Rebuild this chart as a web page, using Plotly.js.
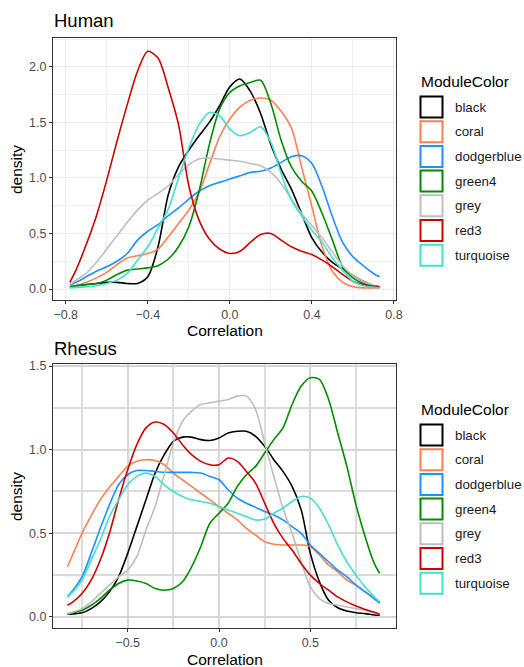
<!DOCTYPE html>
<html>
<head>
<meta charset="utf-8">
<script src="https://cdn.plot.ly/plotly-3.0.1.min.js"></script>
<style>html,body{margin:0;padding:0;background:#fff;}#chart{width:524px;height:667px;}</style>
</head>
<body>
<div id="chart"></div>
<script>
// ---- data ----
const modules = ["black","coral","dodgerblue","green4","grey","red3","turquoise"];
const moduleColors = ["#000000","#FF7F50","#1E90FF","#008B00","#BEBEBE","#CD0000","#40E0D0"];

const humanX = [-0.78,-0.75,-0.7,-0.65,-0.6,-0.55,-0.5,-0.45,-0.4,-0.35,-0.3,-0.25,-0.2,-0.15,-0.1,-0.05,0,0.05,0.1,0.15,0.2,0.25,0.3,0.35,0.4,0.45,0.5,0.55,0.6,0.65,0.7,0.73];
const humanBlack = [0.02,0.03,0.04,0.05,0.06,0.06,0.05,0.05,0.11,0.38,0.85,1.1,1.25,1.38,1.5,1.65,1.82,1.89,1.78,1.58,1.3,1.08,0.9,0.68,0.46,0.33,0.24,0.18,0.12,0.07,0.03,0.02];
const humanCoral = [0.02,0.03,0.06,0.1,0.15,0.22,0.28,0.3,0.32,0.36,0.47,0.59,0.71,0.87,1.12,1.37,1.53,1.64,1.7,1.72,1.7,1.6,1.45,1.1,0.74,0.38,0.16,0.06,0.02,0.01,0.01,0.01];
const humanDodgerblue = [0.035,0.06,0.11,0.16,0.2,0.25,0.32,0.44,0.52,0.58,0.66,0.73,0.81,0.88,0.93,0.96,0.99,1.02,1.05,1.06,1.09,1.14,1.19,1.2,1.13,0.92,0.65,0.42,0.29,0.21,0.14,0.11];
const humanGreen4 = [0.02,0.03,0.04,0.05,0.08,0.13,0.17,0.18,0.19,0.21,0.27,0.38,0.56,0.88,1.3,1.62,1.77,1.83,1.86,1.88,1.67,1.34,1.1,0.97,0.88,0.68,0.44,0.2,0.1,0.05,0.03,0.02];
const humanGrey = [0.04,0.08,0.14,0.24,0.36,0.48,0.6,0.71,0.8,0.86,0.93,1.03,1.12,1.17,1.18,1.17,1.16,1.15,1.13,1.11,1.05,0.95,0.81,0.68,0.57,0.46,0.33,0.21,0.12,0.07,0.03,0.02];
const humanRed3 = [0.06,0.17,0.4,0.66,0.98,1.33,1.66,1.96,2.14,2.08,1.81,1.48,0.93,0.62,0.45,0.36,0.32,0.34,0.42,0.49,0.5,0.44,0.38,0.34,0.31,0.26,0.2,0.13,0.07,0.04,0.025,0.02];
const humanTurquoise = [0.01,0.015,0.02,0.03,0.05,0.08,0.14,0.26,0.38,0.55,0.72,1.0,1.27,1.48,1.59,1.56,1.44,1.38,1.41,1.46,1.32,1.04,0.8,0.66,0.53,0.42,0.28,0.17,0.07,0.03,0.015,0.01];

const rhesusX = [-0.83,-0.8,-0.75,-0.7,-0.65,-0.6,-0.55,-0.5,-0.45,-0.4,-0.35,-0.3,-0.25,-0.2,-0.15,-0.1,-0.05,0,0.05,0.1,0.15,0.2,0.25,0.3,0.35,0.4,0.45,0.5,0.55,0.6,0.65,0.7,0.75,0.8,0.85,0.88];
const rhesusBlack = [0.016,0.018,0.025,0.05,0.09,0.15,0.24,0.38,0.54,0.7,0.86,0.97,1.05,1.075,1.075,1.06,1.055,1.07,1.1,1.11,1.11,1.08,1.02,0.94,0.87,0.78,0.64,0.38,0.21,0.1,0.055,0.035,0.025,0.02,0.012,0.01];
const rhesusCoral = [0.3,0.375,0.5,0.605,0.7,0.775,0.84,0.9,0.93,0.94,0.935,0.91,0.86,0.82,0.78,0.74,0.7,0.66,0.62,0.58,0.53,0.49,0.45,0.435,0.43,0.43,0.43,0.42,0.37,0.31,0.27,0.22,0.19,0.15,0.11,0.08];
const rhesusDodgerblue = [0.12,0.16,0.24,0.38,0.53,0.67,0.79,0.85,0.875,0.875,0.87,0.865,0.864,0.864,0.864,0.86,0.84,0.82,0.76,0.71,0.68,0.655,0.63,0.61,0.58,0.54,0.5,0.43,0.38,0.33,0.28,0.24,0.19,0.15,0.11,0.085];
const rhesusGreen4 = [0.016,0.025,0.04,0.07,0.11,0.16,0.2,0.22,0.215,0.2,0.17,0.16,0.17,0.21,0.3,0.42,0.56,0.62,0.68,0.78,0.85,0.9,0.98,1.06,1.13,1.27,1.38,1.43,1.42,1.3,1.1,0.9,0.67,0.48,0.32,0.26];
const rhesusGrey = [0.02,0.03,0.05,0.09,0.14,0.19,0.24,0.28,0.36,0.52,0.66,0.85,1.04,1.17,1.23,1.27,1.28,1.29,1.3,1.32,1.32,1.24,1.04,0.84,0.65,0.5,0.33,0.18,0.11,0.08,0.07,0.06,0.05,0.04,0.025,0.016];
const rhesusRed3 = [0.07,0.09,0.14,0.22,0.34,0.5,0.7,0.88,1.03,1.13,1.165,1.15,1.1,1.03,0.97,0.93,0.91,0.91,0.95,0.93,0.87,0.8,0.68,0.56,0.47,0.4,0.32,0.25,0.2,0.16,0.12,0.09,0.065,0.045,0.028,0.016];
const rhesusTurquoise = [0.12,0.15,0.22,0.34,0.46,0.6,0.7,0.79,0.84,0.86,0.84,0.79,0.75,0.72,0.7,0.69,0.68,0.66,0.64,0.62,0.6,0.58,0.585,0.62,0.65,0.69,0.72,0.71,0.65,0.55,0.43,0.33,0.25,0.18,0.12,0.09];

const humanSeries = [humanBlack,humanCoral,humanDodgerblue,humanGreen4,humanGrey,humanRed3,humanTurquoise];
const rhesusSeries = [rhesusBlack,rhesusCoral,rhesusDodgerblue,rhesusGreen4,rhesusGrey,rhesusRed3,rhesusTurquoise];

// ---- build ----
const W = 524, H = 667;
const px = x => x / W;
const py = y => 1 - y / H;
const FONT = "Liberation Sans, Arial, sans-serif";

const traces = [];
modules.forEach((m, i) => {
  traces.push({x: humanX, y: humanSeries[i], type: 'scatter', mode: 'lines', name: m,
    line: {color: moduleColors[i], width: 1.6, shape: 'spline', smoothing: 0.8},
    xaxis: 'x', yaxis: 'y', showlegend: false, hoverinfo: 'skip'});
});
modules.forEach((m, i) => {
  traces.push({x: rhesusX, y: rhesusSeries[i], type: 'scatter', mode: 'lines', name: m,
    line: {color: moduleColors[i], width: 1.6, shape: 'spline', smoothing: 0.8},
    xaxis: 'x2', yaxis: 'y2', showlegend: false, hoverinfo: 'skip'});
});

function axisBase(extra) {
  return Object.assign({
    showline: true, mirror: true, linecolor: '#333333', linewidth: 1,
    ticks: 'outside', ticklen: 3, tickcolor: '#333333', tickwidth: 1,
    tickfont: {family: FONT, size: 12.5, color: '#4d4d4d'},
    tickformat: '.1f', zeroline: false, showgrid: true
  }, extra);
}

const xDom = [px(53), px(396)];
const layout = {
  width: W, height: H,
  margin: {l: 0, r: 0, t: 0, b: 0},
  paper_bgcolor: '#ffffff', plot_bgcolor: '#ffffff',
  showlegend: false,
  font: {family: FONT},
  xaxis: axisBase({domain: xDom, anchor: 'y', range: [-0.862, 0.81], tick0: -0.8, dtick: 0.4,
    gridcolor: '#ebebeb', gridwidth: 1,
    minor: {dtick: 0.2, tick0: -0.8, showgrid: true, gridcolor: '#f0f0f0', gridwidth: 1, ticks: ''}}),
  yaxis: axisBase({domain: [py(300), py(38)], anchor: 'x', range: [-0.099, 2.26], tick0: 0, dtick: 0.5,
    gridcolor: '#ebebeb', gridwidth: 1,
    minor: {dtick: 0.25, tick0: 0, showgrid: true, gridcolor: '#f0f0f0', gridwidth: 1, ticks: ''}}),
  xaxis2: axisBase({domain: xDom, anchor: 'y2', range: [-0.909, 0.969], tick0: -0.5, dtick: 0.5,
    gridcolor: '#d6d6d6', gridwidth: 2,
    minor: {dtick: 0.25, tick0: -0.5, showgrid: true, gridcolor: '#dcdcdc', gridwidth: 2, ticks: ''}}),
  yaxis2: axisBase({domain: [py(628), py(364)], anchor: 'x2', range: [-0.066, 1.512], tick0: 0, dtick: 0.5,
    gridcolor: '#d6d6d6', gridwidth: 2,
    minor: {dtick: 0.25, tick0: 0, showgrid: true, gridcolor: '#dcdcdc', gridwidth: 2, ticks: ''}}),
  annotations: [],
  shapes: []
};

const ann = (text, x, y, opts) => layout.annotations.push(Object.assign({
  text: text, x: px(x), y: py(y), xref: 'paper', yref: 'paper', showarrow: false,
  xanchor: 'left', yanchor: 'middle', font: {family: FONT, size: 13, color: '#000000'}
}, opts || {}));

// panel titles
ann('Human', 52, 20.5, {font: {family: FONT, size: 18.5, color: '#000000'}});
ann('Rhesus', 52, 348, {font: {family: FONT, size: 18.5, color: '#000000'}});
// axis titles
ann('Correlation', 224.5, 331, {xanchor: 'center', font: {family: FONT, size: 15.5, color: '#000000'}});
ann('Correlation', 224.5, 659, {xanchor: 'center', font: {family: FONT, size: 15.5, color: '#000000'}});
ann('density', 16, 170, {xanchor: 'center', textangle: -90, font: {family: FONT, size: 15.5, color: '#000000'}});
ann('density', 16, 497, {xanchor: 'center', textangle: -90, font: {family: FONT, size: 15.5, color: '#000000'}});

// legends
function legend(titleY, firstBoxTop) {
  ann('ModuleColor', 419, titleY, {font: {family: FONT, size: 15.5, color: '#000000'}});
  modules.forEach((m, i) => {
    const top = firstBoxTop + i * 24.7;
    layout.shapes.push({type: 'rect', xref: 'paper', yref: 'paper',
      x0: px(420.5), x1: px(442.5), y0: py(top + 21), y1: py(top),
      line: {color: moduleColors[i], width: 2}, fillcolor: 'rgba(255,255,255,0)'});
    ann(m, 452.5, top + 10.5, {font: {family: FONT, size: 13.3, color: '#1a1a1a'}});
  });
}
legend(81.5, 96.5);
legend(409, 424.5);

Plotly.newPlot('chart', traces, layout, {displayModeBar: false, staticPlot: true});
</script>
</body>
</html>
